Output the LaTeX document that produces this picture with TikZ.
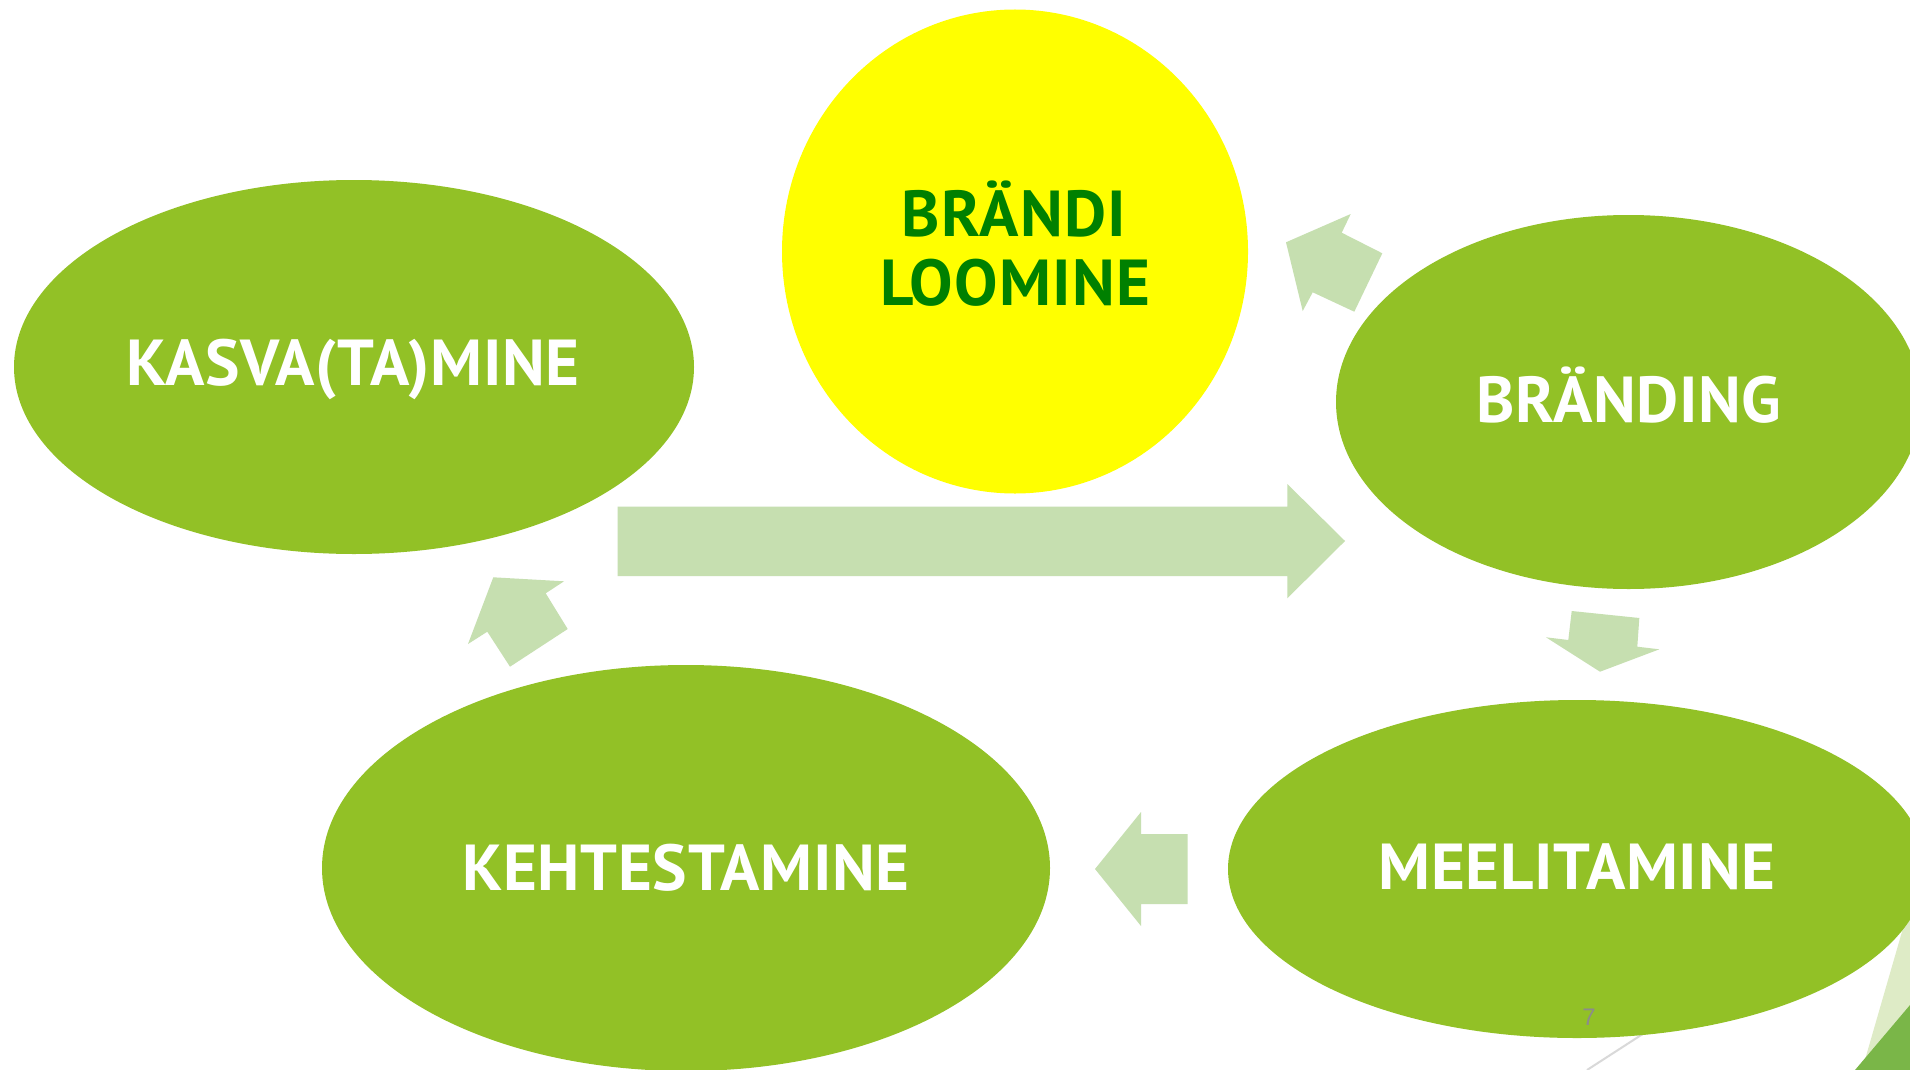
\documentclass[tikz,border=0pt]{standalone}
\usepackage{fontspec}
\setmainfont{PT Sans}
\newfontfamily\pgnumfont{Liberation Sans}
\usetikzlibrary{shapes.geometric}

\definecolor{leaf}{RGB}{146,193,38}
\definecolor{sun}{RGB}{255,255,0}
\definecolor{deepgreen}{RGB}{0,128,0}
\definecolor{arrowgreen}{RGB}{198,223,176}
\definecolor{palegreen}{RGB}{222,235,198}
\definecolor{darkleaf}{RGB}{122,182,72}
\definecolor{pgnumgrey}{RGB}{140,140,140}
\definecolor{hairline}{RGB}{217,217,217}

\tikzset{
  bubble/.style={ellipse, fill=leaf, draw=none, inner sep=0pt, outer sep=0pt},
  sunbubble/.style={ellipse, fill=sun, draw=none, inner sep=0pt, outer sep=0pt},
  whitelabel/.style={anchor=base, inner sep=0pt, text=white,
    font=\fontsize{32.5}{34}\selectfont\bfseries\addfontfeatures{LetterSpace=1}},
  greenlabel/.style={anchor=base, inner sep=0pt, text=deepgreen,
    font=\fontsize{32.5}{34}\selectfont\bfseries\addfontfeatures{LetterSpace=2}},
  blockarrow/.style={fill=arrowgreen, draw=none}
}

\begin{document}
\begin{tikzpicture}[x=0.5pt, y=-0.5pt]
  % canvas
  \fill[white] (0,0) rectangle (1910,1070);
  \useasboundingbox (0,0) rectangle (1910,1070);

  % corner decoration
  \draw[hairline, line width=1pt] (1587,1070) -- (1700,997);
  \fill[palegreen] (1862,1070) -- (1910,904) -- (1910,1070) -- cycle;
  \fill[darkleaf] (1855,1070) -- (1910,1005) -- (1910,1070) -- cycle;

  % stages
  \node[bubble, minimum width=340pt, minimum height=187pt] (kasva) at (354,367) {};
  \node[sunbubble, minimum width=233pt, minimum height=242pt] (brandi) at (1015,251.5) {};
  \node[bubble, minimum width=292.6pt, minimum height=187pt] (branding) at (1628.6,402) {};
  \node[bubble, minimum width=364pt, minimum height=203pt] (kehtest) at (686,868) {};
  \node[bubble, minimum width=349pt, minimum height=169pt] (meelit) at (1577,869) {};

  % block arrows of the cycle
  \fill[blockarrow] (617.6,506.7) -- (1287.3,506.7) -- (1287.3,484) -- (1345,541)
    -- (1287.3,598.3) -- (1287.3,576) -- (617.6,576) -- cycle;
  \fill[blockarrow] (1286,242.3) -- (1350.7,214) -- (1341.7,232.7) -- (1382.3,253.3)
    -- (1354.3,311.7) -- (1312.7,292.3) -- (1302.7,311) -- cycle;
  \fill[blockarrow] (1600,671.7) -- (1659.3,649.3) -- (1637.3,646.7) -- (1639.3,618)
    -- (1571.7,611) -- (1568.3,640) -- (1546,637.3) -- cycle;
  \fill[blockarrow] (1095,869) -- (1141,812) -- (1141,834) -- (1187.6,834)
    -- (1187.6,904) -- (1141,904) -- (1141,926) -- cycle;
  \fill[blockarrow] (493.3,577.3) -- (564,581.3) -- (545.7,593.3) -- (567.7,629)
    -- (510,666.7) -- (487.3,631.7) -- (468,644) -- cycle;

  % labels
  \node[whitelabel] (tkasva) at (353,385.7) {KASVA(TA)MINE};
  \node[greenlabel] (tbrandi1) at (1014,236.7) {BRÄNDI};
  \node[greenlabel] (tbrandi2) at (1015.5,305) {LOOMINE};
  \node[whitelabel] (tbranding) at (1629,422.3) {BRÄNDING};
  \node[whitelabel] (tkehtest) at (686,890) {KEHTESTAMINE};
  \node[whitelabel] (tmeelit) at (1577,889) {MEELITAMINE};

  % slide number
  \node[anchor=base, inner sep=0pt, text=pgnumgrey, font=\pgnumfont\fontsize{12}{14}\selectfont] (pgnum) at (1589,1025) {7};
\end{tikzpicture}
\end{document}
